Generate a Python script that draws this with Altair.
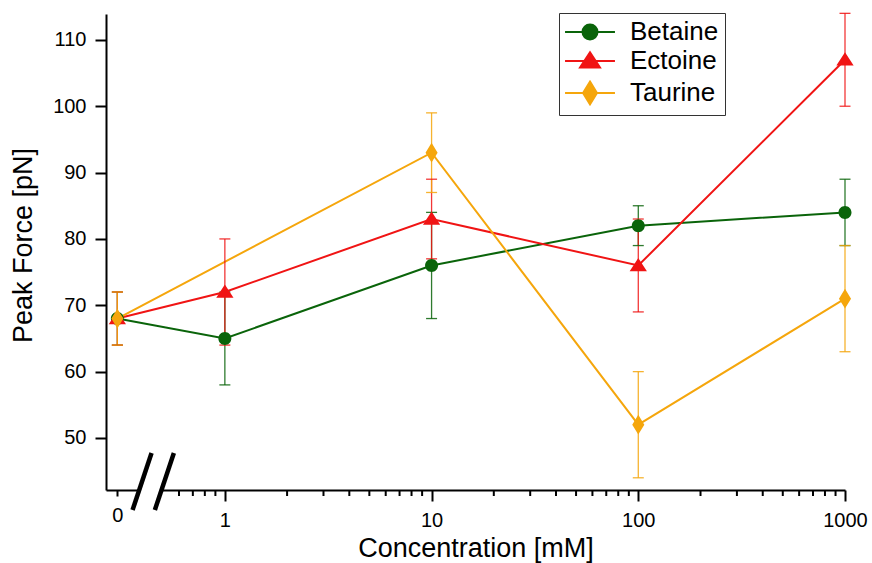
import math
import altair as alt
import pandas as pd

# ---------------- data ----------------
series_names = ["Betaine", "Ectoine", "Taurine"]

betaine_conc = [0, 1, 10, 100, 1000]
betaine_force = [68, 65, 76, 82, 84]
betaine_err = [4, 7, 8, 3, 5]

ectoine_conc = [0, 1, 10, 100, 1000]
ectoine_force = [68, 72, 83, 76, 107]
ectoine_err = [4, 8, 6, 7, 7]

taurine_conc = [0, 10, 100, 1000]
taurine_force = [68, 93, 52, 71]
taurine_err = [4, 6, 8, 8]

y_tick_values = [50, 60, 70, 80, 90, 100, 110]
x_tick_concs = [0, 1, 10, 100, 1000]
minor_tick_concs = [0.6, 0.7, 0.8, 0.9,
                    2, 3, 4, 5, 6, 7, 8, 9,
                    20, 30, 40, 50, 60, 70, 80, 90,
                    200, 300, 400, 500, 600, 700, 800, 900]

# ---------------- style / layout ----------------
colors = ["#0a640a", "#f01414", "#f5a60c"]
FONT = "Liberation Sans"
W, H = 739, 476
ZERO_POS = -0.52            # where the "0" category sits on the broken log axis
X_DOMAIN = [-0.575, 3.0]    # in log10 units
Y_DOMAIN = [42.16, 113.9]
BREAK_SLASHES = {"x1": [-0.4465, -0.3387], "x2": [-0.3546, -0.2467]}
BREAK_GAP = {"x1": [-0.41], "x2": [-0.31]}

# marker + legend-line symbols (the line subpath only shows where a stroke is drawn: in the legend)
symbol_paths = [
    "M-0.625,0A0.625,0.625,0,1,0,0.625,0A0.625,0.625,0,1,0,-0.625,0Z M-2.08,0L2.08,0",
    "M0,-0.72L0.83,0.55L-0.83,0.55Z M-2.08,0L2.08,0",
    "M0,-0.95L0.58,0L0,0.95L-0.58,0Z M-2.08,0L2.08,0",
]
MARKER_SIZE = 433
LEGEND_SYMBOL_SIZE = 576

rows = []
for name, cs_, vs, es in [
    ("Betaine", betaine_conc, betaine_force, betaine_err),
    ("Ectoine", ectoine_conc, ectoine_force, ectoine_err),
    ("Taurine", taurine_conc, taurine_force, taurine_err),
]:
    for c, v, e in zip(cs_, vs, es):
        rows.append({"series": name, "c": c, "v": v, "err": e})
df = pd.DataFrame(rows)

lx_expr = f"datum.c == 0 ? {ZERO_POS} : log(datum.c) / LN10"

xs = alt.Scale(domain=X_DOMAIN, nice=False, zero=False)
ys = alt.Scale(domain=Y_DOMAIN, nice=False, zero=False)
color_scale = alt.Scale(domain=series_names, range=colors)
shape_scale = alt.Scale(domain=series_names, range=symbol_paths)

x_tick_pos = [ZERO_POS if c == 0 else math.log10(c) for c in x_tick_concs]

x_axis = alt.Axis(
    values=x_tick_pos,
    labelExpr="datum.value < -0.1 ? '0' : format(pow(10, datum.value), 'd')",
    title="Concentration [mM]",
    grid=False,
    domainColor="black", domainWidth=2,
    tickColor="black", tickWidth=2,
    tickSize={"condition": {"test": "datum.value < -0.1", "value": 6}, "value": 11},
    labelFont=FONT, labelFontSize=20, labelColor="black", labelPadding=9,
    titleFont=FONT, titleFontSize=27, titleColor="black", titleFontWeight="normal",
    titlePadding=5, labelFlush=False,
)
y_axis = alt.Axis(
    values=y_tick_values,
    title="Peak Force [pN]",
    grid=False,
    domainColor="black", domainWidth=2,
    tickColor="black", tickWidth=2, tickSize=11,
    labelFont=FONT, labelFontSize=20, labelColor="black", labelPadding=9,
    titleFont=FONT, titleFontSize=27, titleColor="black", titleFontWeight="normal",
    titlePadding=15, titleY=231,
)

base = alt.Chart(df).transform_calculate(
    lx=lx_expr, lo="datum.v - datum.err", hi="datum.v + datum.err"
)

X = alt.X("lx:Q", scale=xs, axis=x_axis)
Yv = alt.Y("v:Q", scale=ys, axis=y_axis)
C = alt.Color("series:N", scale=color_scale, legend=None)

leg = alt.Legend(
    title=None, orient="none", legendX=453, legendY=-1,
    symbolSize=LEGEND_SYMBOL_SIZE, symbolStrokeWidth=2, symbolOffset=12,
    symbolFillColor="black",
    labelFont=FONT, labelFontSize=26, labelColor="black", labelOffset=27,
    strokeColor="#333333", padding=6, rowPadding=3, fillColor="white",
)

lines = base.mark_line(strokeWidth=2).encode(x=X, y=Yv, color=C)
err_rules = base.mark_rule(strokeWidth=1.3, opacity=0.85).encode(
    x=X, y=alt.Y("lo:Q", scale=ys, axis=y_axis), y2="hi:Q", color=C
)
cap_lo = base.mark_tick(orient="horizontal", size=11, thickness=1.3, opacity=0.85).encode(
    x=X, y=alt.Y("lo:Q", scale=ys, axis=y_axis), color=C
)
cap_hi = base.mark_tick(orient="horizontal", size=11, thickness=1.3, opacity=0.85).encode(
    x=X, y=alt.Y("hi:Q", scale=ys, axis=y_axis), color=C
)
markers = base.mark_point(filled=True, size=MARKER_SIZE, opacity=1, strokeWidth=0).encode(
    x=X, y=Yv, color=C,
    shape=alt.Shape("series:N", scale=shape_scale, legend=None),
)
# invisible layer that only carries the legend (line + marker symbols)
legend_layer = base.mark_point(filled=True, size=LEGEND_SYMBOL_SIZE, opacity=0, strokeWidth=2).encode(
    x=X, y=Yv,
    fill=alt.Fill("series:N", scale=alt.Scale(domain=series_names, range=colors), legend=leg),
    stroke=alt.Stroke("series:N", scale=alt.Scale(domain=series_names, range=colors), legend=leg),
    shape=alt.Shape("series:N", scale=shape_scale, legend=leg),
)

minor = alt.Chart(pd.DataFrame({"c": minor_tick_concs})).transform_calculate(
    lx="log(datum.c) / LN10"
).mark_rule(color="black", strokeWidth=2).encode(
    x=X, y=alt.value(H), y2=alt.value(H + 6)
)

gap = alt.Chart(pd.DataFrame(BREAK_GAP)).transform_calculate(
    lx="datum.x1", lx2="datum.x2"
).mark_rule(color="white", strokeWidth=5).encode(
    x=X, x2="lx2:Q", y=alt.value(H)
)
slashes = alt.Chart(pd.DataFrame(BREAK_SLASHES)).transform_calculate(
    lx="datum.x1", lx2="datum.x2"
).mark_rule(color="black", strokeWidth=4.5).encode(
    x=X, x2="lx2:Q", y=alt.value(H + 20), y2=alt.value(H - 37)
)

chart = alt.layer(
    lines, err_rules, cap_lo, cap_hi, markers, legend_layer, minor, gap, slashes
).resolve_legend(
    color="independent", fill="independent", stroke="independent", shape="independent"
).properties(
    width=W, height=H,
    autosize=alt.AutoSizeParams(type="none"),
    padding={"left": 106, "top": 14, "right": 27, "bottom": 73},
    background="white",
).configure_view(stroke=None)

chart.save("out.html", embed_options={"renderer": "svg", "actions": False})
